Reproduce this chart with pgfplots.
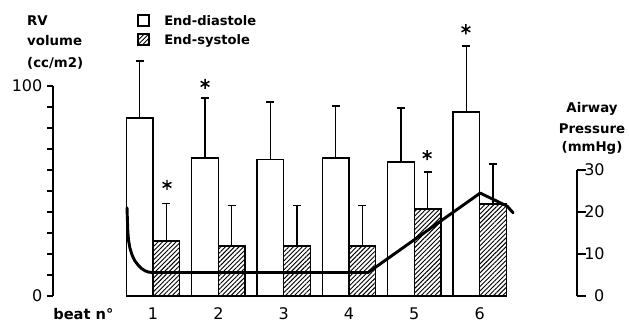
\documentclass[border=0pt]{standalone}
\usepackage{fontspec}
\setmainfont{DejaVu Sans}
\usepackage{pgfplots}
\usepackage{pgfplotstable}
\pgfplotsset{compat=1.18}
\usetikzlibrary{patterns.meta}

\pgfplotstableread{
x y e
0.797 84.8 27.1
1.797 65.7 28.6
2.797 65.0 27.4
3.797 65.7 24.8
4.797 63.8 25.7
5.797 87.6 31.4
}\dia
\pgfplotstableread{
x y e
1.203 26.2 17.8
2.203 23.8 19.2
3.203 23.8 19.2
4.203 23.8 19.2
5.203 41.4 17.6
6.203 43.8 19.1
}\sys

\begin{document}
\begin{tikzpicture}
\useasboundingbox (-39.75pt,-20.25pt) rectangle (432pt,222pt);
\begin{axis}[
 scale only axis, width=393pt, height=157.5pt,
 xmin=-0.531, xmax=7.49, ymin=0, ymax=100,
 axis y line*=left, axis x line*=bottom,
 x axis line style={draw=none},
 xtick={1,...,6}, xtick style={draw=none},
 ytick={0,100}, minor ytick={10,20,...,90},
 tick align=outside, major tick length=4.5pt, minor tick length=4.5pt,
 y axis line style={line width=1pt},
 ytick style={line width=1pt, black},
 minor tick style={line width=1pt, black},
 clip=false,
 /pgf/number format/assume math mode=true,
 ticklabel style={font=\fontsize{12}{14}\selectfont},
 xticklabel style={yshift=-1pt},
 legend cell align=left,
 legend style={draw=none, fill=none, inner sep=0pt, at={(0.1603,1.3476)}, anchor=north west,
   row sep=1.3pt, font=\bfseries\fontsize{9.8}{11}\selectfont,
   /tikz/every odd column/.append style={column sep=9pt}},
]
\addplot[ybar, bar width=0.406, draw=black, fill=white, line width=1pt,
  legend image code/.code={\draw[draw=black, fill=white, line width=1pt] (0pt,-3pt) rectangle (8.25pt,5.25pt);},
  error bars/.cd, y dir=plus, y explicit, error mark=|,
  error bar style={line width=1.1pt, black},
  error mark options={mark size=3pt, line width=1.1pt, black}]
  table[x=x, y=y, y error=e]{\dia};
\addlegendentry{End-diastole}
\addplot[ybar, bar width=0.406, draw=black, line width=1pt,
  pattern={Lines[angle=45, distance=2.4pt, line width=0.7pt]},
  legend image code/.code={\draw[draw=black, line width=1pt, pattern={Lines[angle=45, distance=2.4pt, line width=0.7pt]}] (0pt,-3pt) rectangle (8.25pt,5.25pt);},
  error bars/.cd, y dir=plus, y explicit, error mark=|,
  error bar style={line width=1.1pt, black},
  error mark options={mark size=3pt, line width=1.1pt, black}]
  table[x=x, y=y, y error=e]{\sys};
\addlegendentry{End-systole}
\addplot[black, line width=1pt, forget plot] coordinates {(0.587,0) (6.39,0)};
\addplot[only marks, mark=asterisk, mark size=3.8pt, mark options={line width=1.1pt, black}, forget plot]
  coordinates {(1.214,52.9) (1.796,101) (5.196,67.1) (5.79,127)};
\node[anchor=base west, inner sep=0pt, font=\bfseries\fontsize{10}{12}\selectfont] at (axis cs:-0.93,129) {RV};
\node[anchor=base west, inner sep=0pt, font=\bfseries\fontsize{10}{12}\selectfont] at (axis cs:-0.93,119.5) {volume};
\node[anchor=base west, inner sep=0pt, font=\bfseries\fontsize{10}{12}\selectfont] at (axis cs:-0.93,109) {(cc/m2)};
\node[anchor=base, inner sep=0pt, font=\bfseries\fontsize{10}{12}\selectfont] at (axis cs:7.72,87.6) {Airway};
\node[anchor=base, inner sep=0pt, font=\bfseries\fontsize{10}{12}\selectfont] at (axis cs:7.72,77.6) {Pressure};
\node[anchor=base, inner sep=0pt, font=\bfseries\fontsize{10}{12}\selectfont] at (axis cs:7.72,68.6) {(mmHg)};
\node[anchor=base west, inner sep=0pt, font=\bfseries\fontsize{11}{12}\selectfont] at (axis cs:-0.531,-11.1) {beat n°};
\end{axis}
\begin{axis}[
 scale only axis, width=393pt, height=94.5pt,
 xmin=-0.531, xmax=7.49, ymin=0, ymax=30,
 axis y line*=right, axis x line=none,
 ytick={0,10,20,30},
 tick align=outside, major tick length=6.75pt,
 y axis line style={line width=1pt},
 ytick style={line width=1pt, black},
 clip=false,
 /pgf/number format/assume math mode=true,
 yticklabel style={font=\fontsize{12}{14}\selectfont, anchor=west, text width=15pt, align=right, inner sep=0pt, xshift=-1.5pt},
]
\addplot[black, line width=2.2pt, line join=round, line cap=round] coordinates {
 (0.602,21) (0.607,18.5) (0.614,15.5) (0.625,13.3) (0.645,11.5) (0.678,9.8) (0.72,8.4)
 (0.770,7.4) (0.82,6.6) (0.877,6.0) (0.93,5.7) (0.985,5.6) (4.293,5.6)
 (6.008,24.5) (6.42,21.4) (6.513,19.8)};
\end{axis}
\end{tikzpicture}
\end{document}
